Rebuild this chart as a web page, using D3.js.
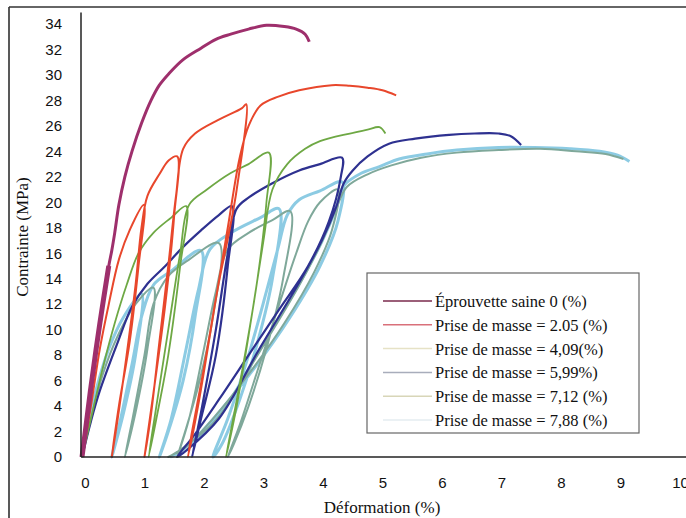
<!DOCTYPE html>
<html>
<head>
<meta charset="utf-8">
<script src="https://cdn.jsdelivr.net/npm/d3@7"></script>
<style>
body { margin: 0; background: #fff; }
</style>
</head>
<body>
<script>
const width = 686;
const height = 518;

// tick labels
const xTicks = [0, 1, 2, 3, 4, 5, 6, 7, 8, 9, 10];
const yTicks = d3.range(0, 35, 2);

const seriesNames = [
    'Éprouvette saine 0 (%)',
    'Prise de masse = 2.05 (%)',
    'Prise de masse = 4,09(%)',
    'Prise de masse = 5,99%)',
    'Prise de masse = 7,12 (%)',
    'Prise de masse = 7,88 (%)'
];

// [deformation %, contrainte MPa]
const saine = [[0,0],[0.05,1.8],[0.15,5.5],[0.3,10.5],[0.45,15],[0.5,16.2],[0.55,17.6],[0.62,19.8],[0.72,22],[0.84,24],[1.0,26.2],[1.16,28],[1.3,29.2],[1.46,30.1],[1.7,31.2],[2.0,32.1],[2.25,32.8],[2.5,33.2],[2.8,33.6],[3.1,33.9],[3.4,33.8],[3.6,33.6],[3.75,33.2],[3.82,32.6]];

const pm205 = [[0,0],[0.15,4],[0.3,8.5],[0.45,12],[0.62,15.5],[0.8,17.8],[1.04,19.8],
    [0.95,15],[0.8,9],[0.62,4],[0.5,0],
    [0.6,3],[0.75,8],[0.9,13.5],[1.0,18],[1.1,20.5],[1.3,22.2],[1.46,23.3],[1.6,23.6],
    [1.55,19],[1.4,12],[1.2,5],[1.05,0],
    [1.15,3],[1.3,9],[1.45,15],[1.58,20.5],[1.7,24.2],[1.9,25.4],[2.3,26.5],[2.69,27.4],[2.76,27.7],
    [2.6,21],[2.47,17.6],[2.3,13.7],[2.05,7],[1.85,2],[1.78,0],
    [1.95,4],[2.2,11],[2.45,18],[2.65,23.5],[2.8,26],[3.0,27.6],[3.3,28.3],[3.65,28.8],[4.2,29.2],[4.5,29.15],[4.8,29.0],[5.05,28.8],[5.28,28.4]];

const pm409 = [[0,0],[0.15,3],[0.35,7],[0.55,10.5],[0.75,13.5],[0.95,16],[1.2,17.6],[1.5,18.8],[1.75,19.7],
    [1.65,15],[1.45,8],[1.25,3],[1.12,0],
    [1.25,4],[1.45,10],[1.65,16],[1.8,19.8],[2.1,21],[2.5,22.3],[2.8,23],[3.14,23.9],
    [3.1,20],[2.95,14],[2.7,7],[2.5,2],[2.42,0],
    [2.6,4],[2.85,11],[3.05,17],[3.2,21],[3.45,23],[3.75,24.2],[4.0,24.8],[4.5,25.4],[4.8,25.7],[5.0,25.9],[5.1,25.4]];

const pm599 = [[0,0],[0.15,2.8],[0.3,5.2],[0.6,9],[0.84,11.8],[1.1,13.6],[1.4,15],[1.7,16.5],[2.0,17.8],[2.3,19],[2.52,19.7],
    [2.45,15],[2.25,8],[2.0,3],[1.85,0],
    [2.0,3.5],[2.25,10],[2.45,16],[2.6,19.5],[2.81,20.4],[3.2,21.5],[3.65,22.5],[4.0,23],[4.37,23.5],
    [4.35,22],[4.15,18.5],[3.8,15],[3.3,11.5],[2.8,8],[2.3,4.5],[1.9,1.8],[1.6,0],
    [1.75,0.5],[2.3,3],[2.97,8.4],[3.65,13.7],[4.03,17],[4.27,19.6],[4.4,21.5],[4.55,22.5],[4.8,23.6],[5.16,24.6],[5.6,25],[6.17,25.3],[6.6,25.4],[7.0,25.4],[7.2,25.2],[7.38,24.5]];

const pm712 = [[0,0],[0.15,3],[0.35,6.5],[0.6,9.5],[0.9,12],[1.2,13.3],
    [1.1,8.5],[0.9,3.5],[0.72,0],
    [0.85,3],[1.05,8],[1.2,12],[1.45,14.2],[1.8,15.5],[2.3,16.8],
    [2.2,11],[1.95,5.5],[1.7,1.5],[1.6,0],
    [1.8,3],[2.05,8.5],[2.25,13],[2.45,16.3],[2.8,17.6],[3.2,18.6],[3.5,19.3],
    [3.38,14],[3.1,8.5],[2.8,4],[2.55,1],[2.45,0],
    [2.65,2.5],[3.0,7.5],[3.35,12.5],[3.6,16],[3.8,18.5],[4.0,20],[4.3,21],
    [4.2,17.8],[3.9,14.5],[3.4,10.5],[2.8,6.5],[2.2,3],[1.75,0.8],[1.45,0],
    [1.6,0.4],[2.25,2.9],[2.95,8],[3.63,13.3],[4.0,16.6],[4.28,19.6],[4.45,21.2],[4.8,22.2],[5.2,22.9],[5.7,23.5],[6.3,23.9],[7.0,24.1],[7.7,24.2],[8.3,24.0],[8.8,23.8],[9.1,23.4]];

const pm788 = [[0,0],[0.1,2.5],[0.25,5.5],[0.45,8.5],[0.7,11],[1.0,12.8],
    [0.9,8],[0.7,3.5],[0.5,0],
    [0.65,3],[0.85,7.5],[1.0,11],[1.2,13.5],[1.5,14.6],[2.0,16.2],
    [1.9,11],[1.7,6],[1.45,2],[1.3,0],
    [1.5,3],[1.75,8.5],[1.95,13],[2.15,16.3],[2.5,17.6],[3.0,18.8],[3.31,19.5],
    [3.2,14],[2.95,9],[2.65,4.5],[2.35,1],[2.2,0],
    [2.45,3],[2.8,8],[3.1,13],[3.3,16.5],[3.45,19],[3.65,20.2],[4.0,20.9],[4.37,21.6],
    [4.3,18.5],[4.0,15],[3.5,11],[2.9,7],[2.3,3.5],[1.8,1],[1.5,0],
    [1.7,0.6],[2.3,3.2],[2.97,8.3],[3.65,13.6],[4.03,16.9],[4.27,19.5],[4.4,21.3],[4.7,22.3],[5.0,22.8],[5.33,23.4],[5.8,23.8],[6.3,24.1],[7.0,24.3],[7.6,24.3],[8.2,24.2],[8.7,24.0],[9.0,23.7],[9.2,23.2]];

const seriesData = [saine, pm205, pm409, pm599, pm712, pm788];
const seriesColors = ['#9e2f6c', '#e8472c', '#6ea844', '#2e3190', '#7fa89a', '#8ccbe3'];
const seriesWidths = [3, 2, 1.8, 2.2, 2, 3];
const legendColors = ['#7a2a4c', '#d9707a', '#e6e2c6', '#a8adbb', '#d8d6b8', '#e4ecf0'];

const svg = d3.select('body').append('svg').attr('width', width).attr('height', height);

const x = d3.scaleLinear().domain([0, 10]).range([82, 677]);
const y = d3.scaleLinear().domain([0, 34]).range([457, 24]);

// outer frame
svg.append('line').attr('x1', 9).attr('x2', 9).attr('y1', 7).attr('y2', height)
    .attr('stroke', '#222').attr('stroke-width', 1.5);
svg.append('line').attr('x1', 9).attr('x2', width).attr('y1', 7).attr('y2', 7)
    .attr('stroke', '#333').attr('stroke-width', 1.5);

const g = svg.append('g');

// curves, drawn back to front
const line = d3.line().x(d => x(d[0])).y(d => y(d[1])).curve(d3.curveCatmullRom.alpha(0.5));
const order = [5, 4, 3, 2, 1, 0];
g.selectAll('.curve')
    .data(order)
    .enter()
    .append('path')
    .attr('class', 'curve')
    .attr('d', i => line(seriesData[i]))
    .attr('fill', 'none')
    .attr('stroke', i => seriesColors[i])
    .attr('stroke-width', i => seriesWidths[i])
    .attr('stroke-linejoin', 'round');

// the first, straight part of the sound specimen is drawn heavier
g.append('path')
    .attr('d', line(saine.slice(0, 5)))
    .attr('fill', 'none')
    .attr('stroke', seriesColors[0])
    .attr('stroke-width', 5);

// axis lines
g.append('line').attr('x1', x(0) - 1).attr('x2', x(0) - 1).attr('y1', y(34.9)).attr('y2', y(0))
    .attr('stroke', '#222').attr('stroke-width', 1.5);
g.append('line').attr('x1', x(0) - 1).attr('x2', width).attr('y1', y(0)).attr('y2', y(0))
    .attr('stroke', '#222').attr('stroke-width', 1.5);

// tick labels
const yAxis = g.append('g').attr('transform', `translate(${x(0) - 1},0)`)
    .call(d3.axisLeft(y).tickValues(yTicks).tickSize(0).tickPadding(19));
const xAxis = g.append('g').attr('transform', `translate(3,${y(0)})`)
    .call(d3.axisBottom(x).tickValues(xTicks).tickSize(0).tickPadding(20));
[xAxis, yAxis].forEach(a => {
    a.select('.domain').remove();
    a.selectAll('text').attr('font-family', '"Liberation Sans", Arial, sans-serif')
        .attr('font-size', 15).attr('fill', '#111');
});

// axis titles
svg.append('text')
    .attr('x', 382).attr('y', 513)
    .attr('text-anchor', 'middle')
    .attr('font-family', '"Liberation Serif", "Times New Roman", serif')
    .attr('font-size', 17).attr('fill', '#111')
    .text('Déformation (%)');
svg.append('text')
    .attr('transform', 'translate(28,237) rotate(-90)')
    .attr('text-anchor', 'middle')
    .attr('font-family', '"Liberation Serif", "Times New Roman", serif')
    .attr('font-size', 17).attr('fill', '#111')
    .text('Contrainte (MPa)');

// legend
const legend = svg.append('g');
legend.append('rect')
    .attr('x', 367).attr('y', 273).attr('width', 272).attr('height', 160)
    .attr('fill', '#fff').attr('stroke', '#666').attr('stroke-width', 1.2);
const rows = legend.selectAll('.row')
    .data(seriesNames)
    .enter()
    .append('g')
    .attr('class', 'row')
    .attr('transform', (d, i) => `translate(0,${301 + i * 23.8})`);
rows.append('line')
    .attr('x1', 383).attr('x2', 432).attr('y1', 0).attr('y2', 0)
    .attr('stroke', (d, i) => legendColors[i])
    .attr('stroke-width', 1.5);
rows.append('text')
    .attr('x', 435).attr('y', 6)
    .attr('font-family', '"Liberation Serif", "Times New Roman", serif')
    .attr('font-size', 16.5).attr('fill', '#111')
    .text(d => d);
</script>
</body>
</html>
